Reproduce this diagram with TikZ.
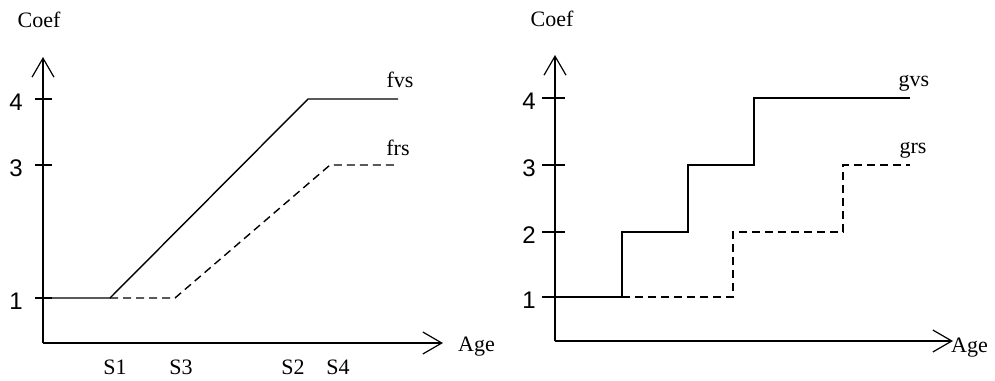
\documentclass[tikz,border=0pt]{standalone}
\usepackage{fontspec}
\setmainfont{Liberation Serif}
\newfontfamily\digitfont{Liberation Sans}
\usetikzlibrary{arrows.meta}
\begin{document}
\begin{tikzpicture}[x=1pt,y=-1pt,
	axis/.style = {line width=1.6pt, -{Straight Barb[length=19pt,width=22pt,line width=1.2pt]}},
	tick/.style = {line width=1.4pt},
	lab/.style = {font=\fontsize{22}{26}\selectfont, inner sep=0pt},
	num/.style = {font=\digitfont\fontsize{24}{28}\selectfont, inner sep=0pt},
	vs/.style = {line width=1.4pt},
	rs/.style = {line width=1.4pt, dash pattern=on 8pt off 5pt}]
	\useasboundingbox (0,0) rectangle (995,380);
	%Vasen kuva
	\coordinate (O1) at (43,343);
	\coordinate (Y1) at (43,57);
	\coordinate (X1) at (443,343);
	\draw[axis] (O1) -- (Y1);
	\draw[axis] (O1) -- (X1);
	\node[lab] (coef1) at (39,20) {Coef};
	\node[lab, anchor=west] (age1) at (458,347) {Age};
	\foreach \v/\y in {4/99,3/165,1/298} {
		\draw[tick] (35,\y) -- (52,\y);
		\node[num] (n1\v) at (16,\y+3) {\v};
	}
	\foreach \s/\x in {S1/115,S3/181,S2/293,S4/338}
		\node[lab] (l\s) at (\x,367) {\s};
	% Kayrat
	\coordinate (a1) at (43,298);
	\coordinate (a2) at (110,298);
	\coordinate (a3) at (308,99);
	\coordinate (a4) at (398,99);
	\coordinate (b1) at (175,298);
	\coordinate (b2) at (330,165);
	\coordinate (b3) at (398,165);
	\draw[vs] (a1) -- (a2) -- (a3) -- (a4);
	\draw[rs] (a2) -- (b1) -- (b2) -- (b3);
	\node[lab] (fvs) at (400,80) {fvs};
	\node[lab] (frs) at (398,148) {frs};
	%Oikea kuva
	\coordinate (O2) at (555,341);
	\coordinate (Y2) at (555,55);
	\coordinate (X2) at (953,341);
	\draw[axis] (O2) -- (Y2);
	\draw[axis] (O2) -- (X2);
	\node[lab] (coef2) at (552,19) {Coef};
	\node[lab, anchor=west] (age2) at (951,348) {Age};
	\foreach \v/\y in {4/98,3/165,2/232,1/297} {
		\draw[tick] (542,\y) -- (565,\y);
		\node[num] (n2\v) at (529,\y+3) {\v};
	}
	% Portaat
	\coordinate (c1) at (555,297);
	\coordinate (c2) at (622,297);
	\coordinate (c3) at (688,232);
	\coordinate (c4) at (754,165);
	\coordinate (c5) at (910,98);
	\coordinate (d1) at (733,297);
	\coordinate (d2) at (843,232);
	\coordinate (d3) at (910,165);
	\draw[vs] (c1) -- (c2) |- (c3) |- (c4) |- (c5);
	\draw[rs] (c2) -- (d1) |- (d2) |- (d3);
	\node[lab] (gvs) at (914,83) {gvs};
	\node[lab] (grs) at (913,150) {grs};
\end{tikzpicture}
\end{document}
